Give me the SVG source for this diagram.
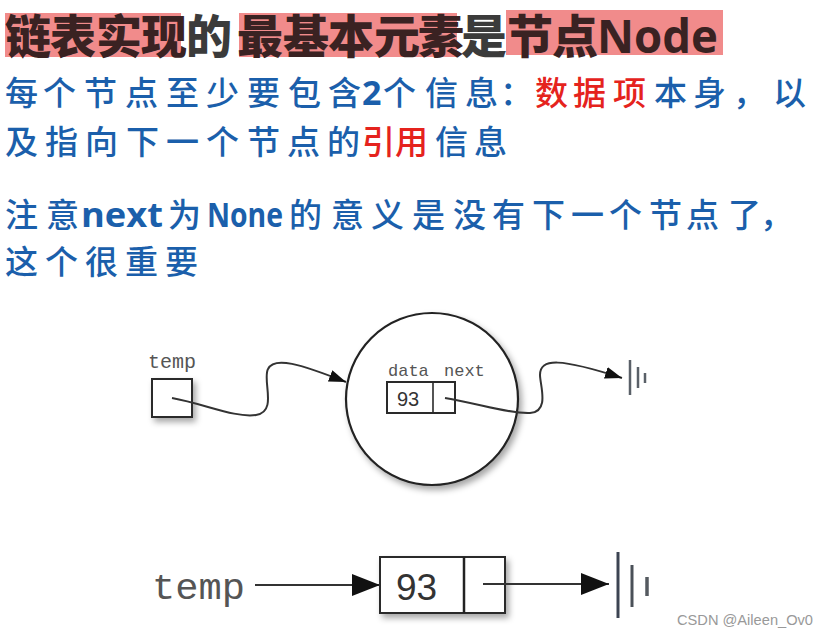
<svg xmlns="http://www.w3.org/2000/svg" width="829" height="636" viewBox="0 0 829 636">
<style>
.title{font-family:"Noto Sans CJK SC","Noto Sans",sans-serif;font-size:46px;font-weight:900;fill:#3a2222}
.title .plain{fill:#3b3b3b}
.title .lat{font-family:"Open Sans","Noto Sans",sans-serif;font-weight:700}
.hl{fill:#f18b8b}
.body{font-family:"Noto Sans CJK SC",sans-serif;font-size:33px;font-weight:500;fill:#1b5fab}
.body .red{fill:#e5231d}
.body .lat{font-family:"Open Sans","Noto Sans",sans-serif;font-weight:700;font-size:34px}
.mono{font-family:"Liberation Mono","DejaVu Sans Mono",monospace;fill:#555}
.num{font-family:"Liberation Sans",Arial,sans-serif;fill:#333}
.box{fill:#fff;stroke:#2a2a2a;stroke-width:2}
.wire{fill:none;stroke:#333;stroke-width:2}
.gnd{stroke:#5a6068;stroke-width:2.5}
</style>
<defs>
<filter id="shadow" x="-20%" y="-20%" width="150%" height="150%">
<feDropShadow dx="3" dy="4" stdDeviation="3" flood-color="#000" flood-opacity="0.35"/>
</filter>
<marker id="arrS" markerUnits="userSpaceOnUse" markerWidth="17" markerHeight="12" refX="17" refY="6" orient="auto">
<path d="M0,0 L17,6 L0,12 Z" fill="#111"/>
</marker>
<marker id="arrL" markerUnits="userSpaceOnUse" markerWidth="28" markerHeight="22" refX="28" refY="11" orient="auto">
<path d="M0,0 L28,11 L0,22 Z" fill="#111"/>
</marker>
</defs>
<rect width="829" height="636" fill="#fff"/>

<g id="title">
<rect class="hl" x="5" y="13" width="176" height="44"/>
<rect class="hl" x="239" y="13" width="218" height="44"/>
<rect class="hl" x="506" y="10" width="217" height="45"/>
<text class="title" y="53"><tspan x="5 50 96 141">链表实现</tspan><tspan class="plain" x="186">的</tspan><tspan x="237 283 328 374 418">最基本元素</tspan><tspan class="plain" x="461">是</tspan><tspan x="507 552">节点</tspan><tspan class="lat" x="597" textLength="121" lengthAdjust="spacingAndGlyphs">Node</tspan></text>
</g>

<g id="text-lines">
<text class="body" y="105"><tspan x="5 43 84 125 166 206 247 288 328">每个节点至少要包含</tspan><tspan class="lat" x="362">2</tspan><tspan x="383 425 465 500">个信息：</tspan><tspan class="red" x="535 573 613">数据项</tspan><tspan x="654 693 733 773">本身，以</tspan></text>
<text class="body" y="154"><tspan x="5 45 85 126 166 206 247 287 327">及指向下一个节点的</tspan><tspan class="red" x="362 395">引用</tspan><tspan x="435 474">信息</tspan></text>
<text class="body" y="227"><tspan x="5 46">注意</tspan><tspan class="lat" x="81" textLength="82" lengthAdjust="spacingAndGlyphs">next</tspan><tspan x="168">为</tspan><tspan class="lat" x="207" textLength="76" lengthAdjust="spacingAndGlyphs">None</tspan><tspan x="289 331 371 412 453 492 532 571 609 649 686 728 760">的意义是没有下一个节点了，</tspan></text>
<text class="body" y="274" x="5 45 85 125 165">这个很重要</text>
</g>

<g id="temp-top">
<text class="mono" x="148" y="368" font-size="20">temp</text>
<rect class="box" x="152" y="379" width="40" height="38" filter="url(#shadow)"/>
</g>

<g id="node-circle">
<circle cx="432" cy="399" r="86" fill="#fff" stroke="#222" stroke-width="2.2" filter="url(#shadow)"/>
<text class="mono" x="388" y="376" font-size="17">data</text>
<text class="mono" x="444" y="376" font-size="17">next</text>
<rect class="box" x="387" y="382" width="68" height="31" stroke-width="1.6"/>
<line x1="433" y1="382" x2="433" y2="413" stroke="#2a2a2a" stroke-width="1.6"/>
<text class="num" x="397" y="406" font-size="20">93</text>
</g>

<g id="ground-top">
<line class="gnd" x1="630" y1="360" x2="630" y2="395"/>
<line class="gnd" x1="638" y1="367" x2="638" y2="388"/>
<line class="gnd" x1="645" y1="373" x2="645" y2="383"/>
</g>

<g id="temp-bottom">
<text class="mono" x="152" y="599" font-size="36" textLength="93" lengthAdjust="spacingAndGlyphs">temp</text>
</g>

<g id="node-box-bottom">
<rect class="box" x="380" y="557" width="125" height="56" stroke-width="2.5" filter="url(#shadow)"/>
<line x1="464" y1="557" x2="464" y2="613" stroke="#222" stroke-width="2.5"/>
<text class="num" x="396" y="600" font-size="37">93</text>
</g>

<g id="ground-bottom">
<line x1="618" y1="552" x2="618" y2="618" stroke="#3c4452" stroke-width="3"/>
<line x1="632" y1="565" x2="632" y2="607" stroke="#4a5058" stroke-width="3"/>
<line x1="647" y1="577" x2="647" y2="596" stroke="#555a60" stroke-width="3.5"/>
</g>

<g id="connectors">
<path class="wire" d="M172,398 C205,404 235,418 256,415 C278,412 262,380 268,369 C274,356 300,364 346,382" marker-end="url(#arrS)"/>
<path class="wire" d="M445,398 C480,404 510,414 530,413 C550,412 540,385 540,375 C540,358 560,358 622,378" marker-end="url(#arrS)"/>
<line class="wire" x1="255" y1="585" x2="380" y2="585" marker-end="url(#arrL)"/>
<line class="wire" x1="483" y1="584" x2="609" y2="584" marker-end="url(#arrL)"/>
</g>

<text x="677" y="625" font-family="Liberation Sans,Arial,sans-serif" font-size="15" fill="#999" textLength="136" lengthAdjust="spacingAndGlyphs">CSDN @Aileen_Ov0</text>
</svg>
